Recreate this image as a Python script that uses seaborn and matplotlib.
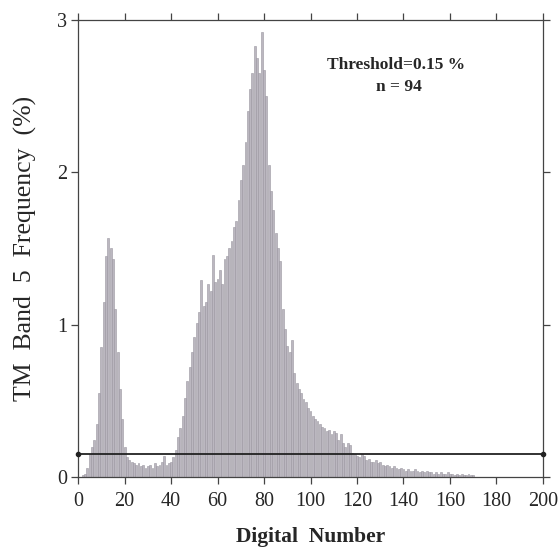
import numpy as np
import pandas as pd
import matplotlib
matplotlib.use('Agg')
import matplotlib.pyplot as plt
import seaborn as sns

# TM band 5 histogram, frequency (%) per digital number
dn = list(range(0, 171))
freq = [0.0, 0.0, 0.01, 0.02, 0.06, 0.15, 0.2, 0.24, 0.35, 0.55,
        0.85, 1.15, 1.45, 1.57, 1.5, 1.43, 1.1, 0.82, 0.58, 0.38,
        0.2, 0.13, 0.11, 0.1, 0.09, 0.08, 0.09, 0.07, 0.08, 0.06,
        0.07, 0.08, 0.06, 0.09, 0.07, 0.08, 0.1, 0.14, 0.08, 0.09,
        0.1, 0.13, 0.18, 0.26, 0.32, 0.4, 0.52, 0.63, 0.72, 0.82,
        0.92, 1.01, 1.08, 1.29, 1.12, 1.15, 1.27, 1.22, 1.46, 1.28,
        1.3, 1.36, 1.27, 1.43, 1.45, 1.5, 1.55, 1.64, 1.68, 1.82,
        1.95, 2.05, 2.2, 2.4, 2.55, 2.65, 2.83, 2.75, 2.65, 2.92,
        2.67, 2.5, 2.05, 1.88, 1.75, 1.6, 1.5, 1.42, 1.1, 0.97,
        0.86, 0.82, 0.9, 0.68, 0.62, 0.58, 0.55, 0.51, 0.49, 0.45,
        0.43, 0.4, 0.38, 0.37, 0.35, 0.33, 0.32, 0.3, 0.31, 0.28,
        0.3, 0.29, 0.24, 0.28, 0.22, 0.2, 0.22, 0.21, 0.16, 0.15,
        0.14, 0.13, 0.15, 0.14, 0.11, 0.12, 0.1, 0.1, 0.11, 0.09,
        0.1, 0.08, 0.07, 0.08, 0.07, 0.06, 0.07, 0.06, 0.05, 0.06,
        0.05, 0.04, 0.05, 0.04, 0.04, 0.05, 0.04, 0.03, 0.04, 0.03,
        0.04, 0.03, 0.03, 0.02, 0.03, 0.02, 0.03, 0.02, 0.02, 0.03,
        0.02, 0.02, 0.01, 0.02, 0.01, 0.02, 0.01, 0.01, 0.02, 0.01,
        0.01]
threshold = 0.15
n_above = 94
x_ticks = [0, 20, 40, 60, 80, 100, 120, 140, 160, 180, 200]
y_ticks = [0, 1, 2, 3]

df = pd.DataFrame({'dn': dn, 'freq': freq})

sns.set_style('ticks')
plt.rcParams['font.family'] = ['Liberation Serif', 'DejaVu Serif']

fig, ax = plt.subplots(figsize=(5.58, 5.54), dpi=100)
fig.subplots_adjust(left=0.14, right=0.973, top=0.964, bottom=0.139)

sns.barplot(data=df, x='dn', y='freq', native_scale=True, color='#bbb7c0',
            saturation=1, width=0.8, edgecolor='#9a96a0', linewidth=0.4,
            errorbar=None, ax=ax)

# threshold line with end dots
ax.plot([0, 200], [threshold, threshold], color='#222222', lw=1.3,
        marker='o', markersize=3, clip_on=False, zorder=5)

ax.text(137, 2.705, 'Threshold=0.15 %', ha='center', va='center',
        fontsize=12.5, fontweight='bold')
ax.text(138, 2.56, 'n = %d' % n_above, ha='center', va='center',
        fontsize=12.5, fontweight='bold')

ax.set_xlim(0, 200)
ax.set_ylim(0, 3)
ax.set_xticks(x_ticks)
ax.set_yticks(y_ticks)
ax.tick_params(direction='out', length=5, width=0.9, color='#444444',
               labelsize=14.5, top=True, right=True)
ax.tick_params(axis='x', pad=6)
ax.tick_params(axis='y', pad=3)
for s in ax.spines.values():
    s.set_visible(True)
    s.set_color('#444444')
    s.set_linewidth(0.9)

ax.set_xlabel('Digital  Number', fontsize=15.5, fontweight='bold', labelpad=11)
ax.set_ylabel('TM  Band  5  Frequency  (%)', fontsize=18.5, labelpad=14)

fig.savefig('out.png', dpi=100)
